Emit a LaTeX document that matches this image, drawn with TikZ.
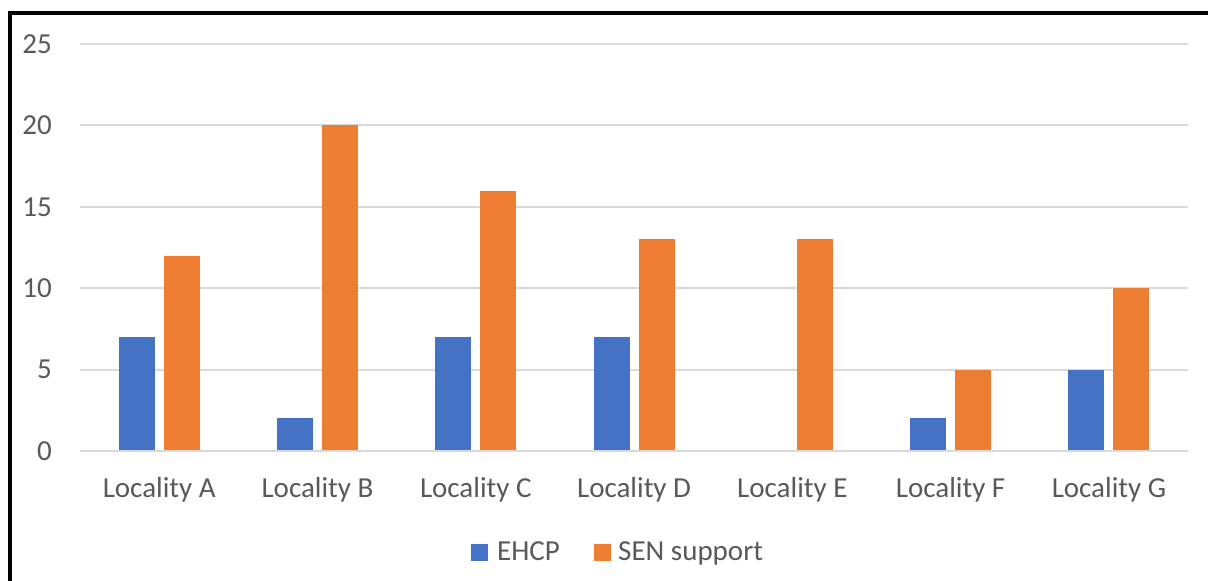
\documentclass[tikz,border=0pt]{standalone}
\usepackage{fontspec}
\setmainfont{Carlito}
\definecolor{ehcp}{HTML}{4472C4}
\definecolor{sen}{HTML}{ED7D31}
\definecolor{gridc}{HTML}{D9D9D9}
\definecolor{txt}{HTML}{595959}
\begin{document}
\begin{tikzpicture}[x=1pt,y=-1pt,
  lbl/.style={inner sep=0pt,text=txt,font=\fontsize{29}{34}\selectfont},
  gridline/.style={draw=gridc,line width=2pt},
  frame/.style={draw=black,line width=4pt}]
\useasboundingbox (0,0) rectangle (1208,581);
\fill[white] (0,0) rectangle (1208,581);
% frame
\draw[frame] (10,581) -- (10,13) -- (1208,13);
% grid and y labels
\foreach \v/\n in {0/y0,5/y5,10/y10,15/y15,20/y20,25/y25}{
  \pgfmathsetmacro{\yy}{451-\v*16.28}
  \draw[gridline] (80,\yy) -- (1188,\yy);
  \node[lbl,anchor=east] (\n) at (52,\yy) {\v};
}
% bars
\foreach \i/\a/\b/\t in {0/7/12/A,1/2/20/B,2/7/16/C,3/7/13/D,4/0/13/E,5/2/5/F,6/5/10/G}{
  \pgfmathsetmacro{\cx}{159.2+\i*158.29}
  \pgfmathsetmacro{\ya}{451-\a*16.28}
  \pgfmathsetmacro{\yb}{451-\b*16.28}
  \ifnum\a>0 \fill[ehcp] (\cx-40.5,450) rectangle (\cx-4.5,\ya);\fi
  \fill[sen] (\cx+4.5,450) rectangle (\cx+40.5,\yb);
  \node[lbl,anchor=base] (x\t) at (\cx,497) {Locality \t};
}
% legend
\fill[ehcp] (471,544) rectangle (488,561);
\node[lbl,anchor=base west] (legA) at (497,560) {EHCP};
\fill[sen] (594,544) rectangle (611,561);
\node[lbl,anchor=base west] (legB) at (618,560) {SEN support};
\end{tikzpicture}
\end{document}
